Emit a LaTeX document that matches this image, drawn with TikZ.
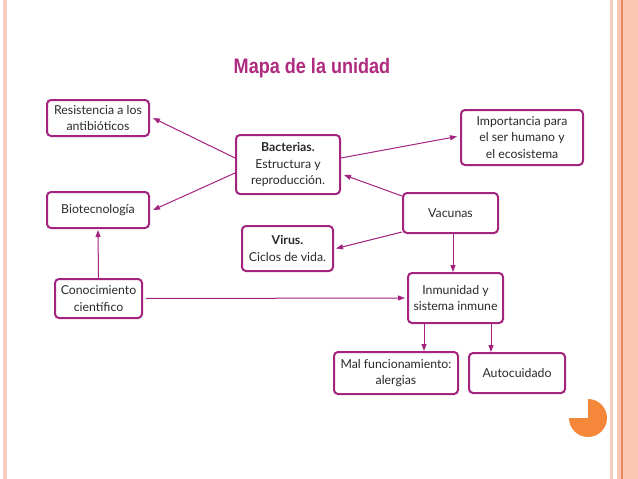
\documentclass[tikz,border=0pt]{standalone}
\usepackage{fontspec}
\setmainfont{Lato}
\newfontfamily\titlefont[FakeStretch=0.86]{Liberation Sans}
\usetikzlibrary{arrows.meta}
\definecolor{mag}{HTML}{A3237F}
\definecolor{titlemag}{HTML}{B02A80}
\definecolor{pinkline}{HTML}{F7CDC2}
\definecolor{salmon}{HTML}{FDC6B2}
\definecolor{darkline}{HTML}{E48A62}
\definecolor{pieorange}{HTML}{F5873A}
\definecolor{txt}{HTML}{2A2A2A}
\begin{document}
\begin{tikzpicture}[x=1pt,y=-1pt,
  box/.style={draw=mag, line width=2pt, rounded corners=4pt, fill=white,
    align=center, font=\fontsize{12.3}{16.5}\selectfont, text=txt, inner sep=0pt},
  arr/.style={draw=mag, line width=1pt, -{Triangle[length=7pt,width=5pt]}}]
\useasboundingbox (0,0) rectangle (638,479);
\fill[white] (0,0) rectangle (638,479);
% frame
\fill[pinkline] (3,0) rectangle (7,479);
\fill[pinkline] (610,0) rectangle (612.5,479);
\fill[salmon] (617,0) rectangle (638,479);
\draw[darkline, line width=1.3pt] (622,0) -- (622,479);
% pie
\fill[pieorange] (588,418) -- ++(-90:19) arc[start angle=-90, end angle=180, radius=19] -- cycle;
% title
\node[font=\titlefont\bfseries\fontsize{21}{24}\selectfont, text=titlemag] (title) at (312,68) {Mapa de la unidad};
% boxes
\node[box, minimum width=102pt, minimum height=36pt] (res) at (98,118) {Resistencia a los\\antibióticos};
\node[box, minimum width=104pt, minimum height=59pt] (bac) at (288,164.5) {\textbf{Bacterias.}\\Estructura y\\reproducción.};
\node[box, minimum width=102pt, minimum height=36pt] (bio) at (98,210) {Biotecnología};
\node[box, minimum width=122pt, minimum height=55pt] (imp) at (522,137.5) {Importancia para\\el ser humano y\\el ecosistema};
\node[box, minimum width=95pt, minimum height=40pt] (vac) at (450.5,213) {Vacunas};
\node[box, minimum width=91pt, minimum height=45pt] (vir) at (287.5,248.5) {\textbf{Virus.}\\Ciclos de vida.};
\node[box, minimum width=87pt, minimum height=39pt] (con) at (98.5,298.5) {Conocimiento\\científico};
\node[box, minimum width=95pt, minimum height=50pt] (inm) at (455.5,298) {Inmunidad y\\sistema inmune};
\node[box, minimum width=124pt, minimum height=42pt] (mal) at (396,373) {Mal funcionamiento:\\alergias};
\node[box, minimum width=96pt, minimum height=40pt] (aut) at (517,373) {Autocuidado};
% connectors
\draw[arr] ([yshift=6.5pt]bac.west) -- ([xshift=3pt]res.east);
\draw[arr] ([yshift=-8.5pt]bac.west) -- ([xshift=3pt]bio.east);
\draw[arr] ([yshift=6.5pt]bac.east) -- ([xshift=-3pt,yshift=1pt]imp.west);
\draw[arr] ([yshift=17pt]vac.west) -- ([xshift=3pt,yshift=-10.5pt]bac.east);
\draw[arr] ([yshift=-19pt]vac.west) -- ([xshift=2pt]vir.east);
\draw[arr] ([xshift=2.5pt]vac.south) -- ([xshift=-2.5pt]inm.north);
\draw[arr] (con.north) -- ([yshift=-1pt]bio.south);
\draw[arr] ([xshift=3pt]con.east) -- ([xshift=-2pt]inm.west);
\draw[arr] ([xshift=-31.5pt]inm.south) -- ([xshift=28pt]mal.north);
\draw[arr] ([xshift=35.5pt]inm.south) -- ([xshift=-26pt]aut.north);
\end{tikzpicture}
\end{document}
